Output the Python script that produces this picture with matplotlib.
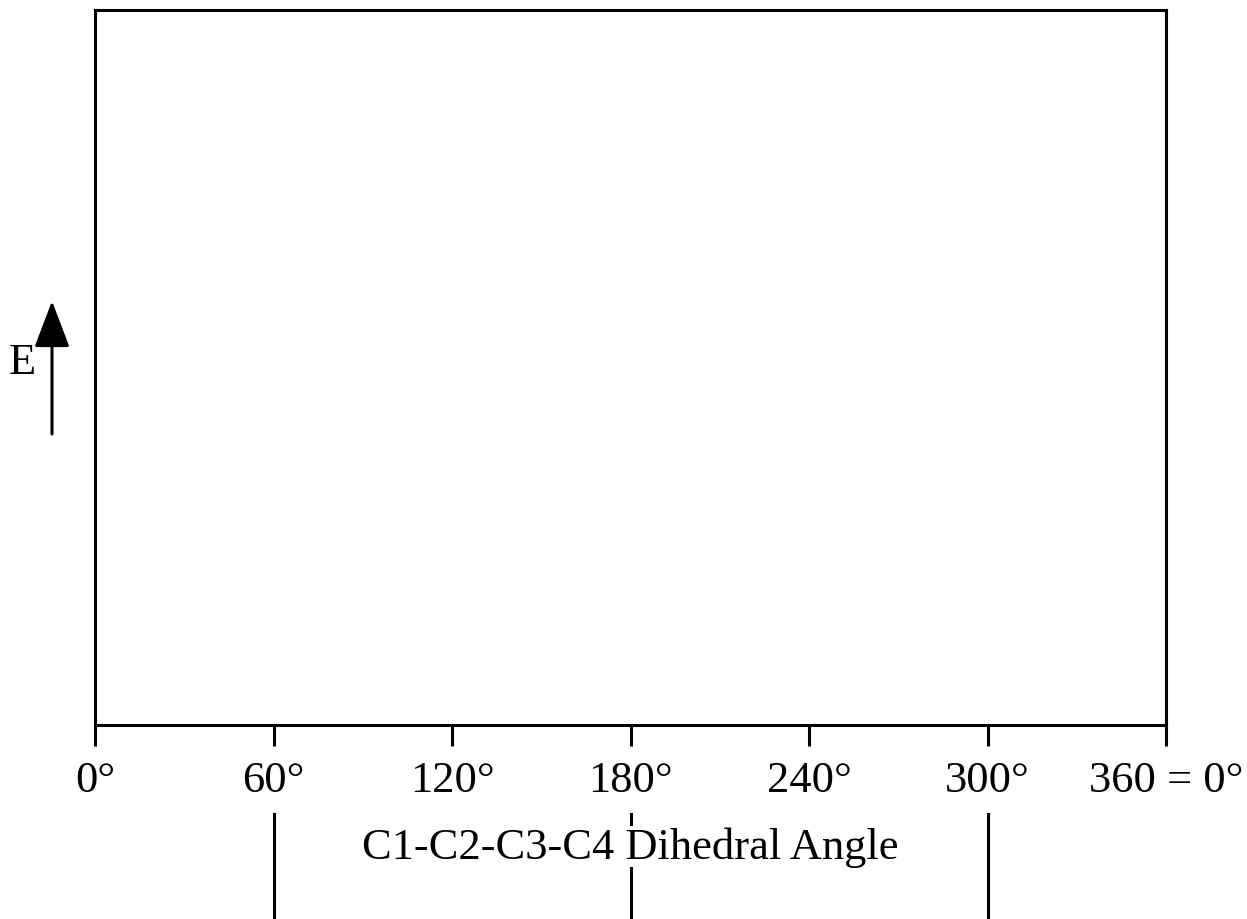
import numpy as np
import matplotlib.pyplot as plt
import matplotlib.transforms as mtransforms

plt.rcParams['font.family'] = ['Liberation Serif', 'DejaVu Serif']

tick_pos = [0, 60, 120, 180, 240, 300, 360]
tick_labels = ["0°", "60°", "120°", "180°", "240°", "300°", "360 = 0°"]
marker_angles = [60, 180, 300]

W, H = 1247, 920
fig = plt.figure(figsize=(W / 100, H / 100), dpi=100)
ax = fig.add_axes([95 / W, (H - 726) / H, (1166 - 95) / W, (726 - 11) / H])
ax.set_xlim(0, 360)
ax.set_ylim(0, 1)
for s in ax.spines.values():
    s.set_linewidth(2.2)
ax.set_yticks([])
ax.set_xticks(tick_pos)
ax.set_xticklabels(tick_labels, fontsize=32)
ax.tick_params(axis='x', length=15, width=2.2, pad=10)

ax.set_xlabel("C1-C2-C3-C4 Dihedral Angle", fontsize=32, labelpad=19,
              bbox=dict(facecolor='white', edgecolor='none', pad=0))
ax.xaxis.label.set_zorder(5)

# vertical marker lines below the axis
trans = mtransforms.blended_transform_factory(ax.transData, ax.transAxes)
y0 = (726 - 815) / 715
y1 = (726 - 925) / 715
for a in marker_angles:
    ax.plot([a, a], [y0, y1], color='black', lw=2.2, transform=trans,
            clip_on=False, zorder=1)

# energy arrow
ax.annotate("", xy=(52 / W, (H - 302) / H), xytext=(52 / W, (H - 435) / H),
            xycoords='figure fraction', textcoords='figure fraction',
            arrowprops=dict(arrowstyle='-|>,head_length=2.9,head_width=1.1',
                            color='black', lw=2.2, shrinkA=0, shrinkB=0))
fig.text(22 / W, (H - 363) / H, "E", fontsize=32, ha='center', va='center')

fig.savefig("out.png", dpi=100)
